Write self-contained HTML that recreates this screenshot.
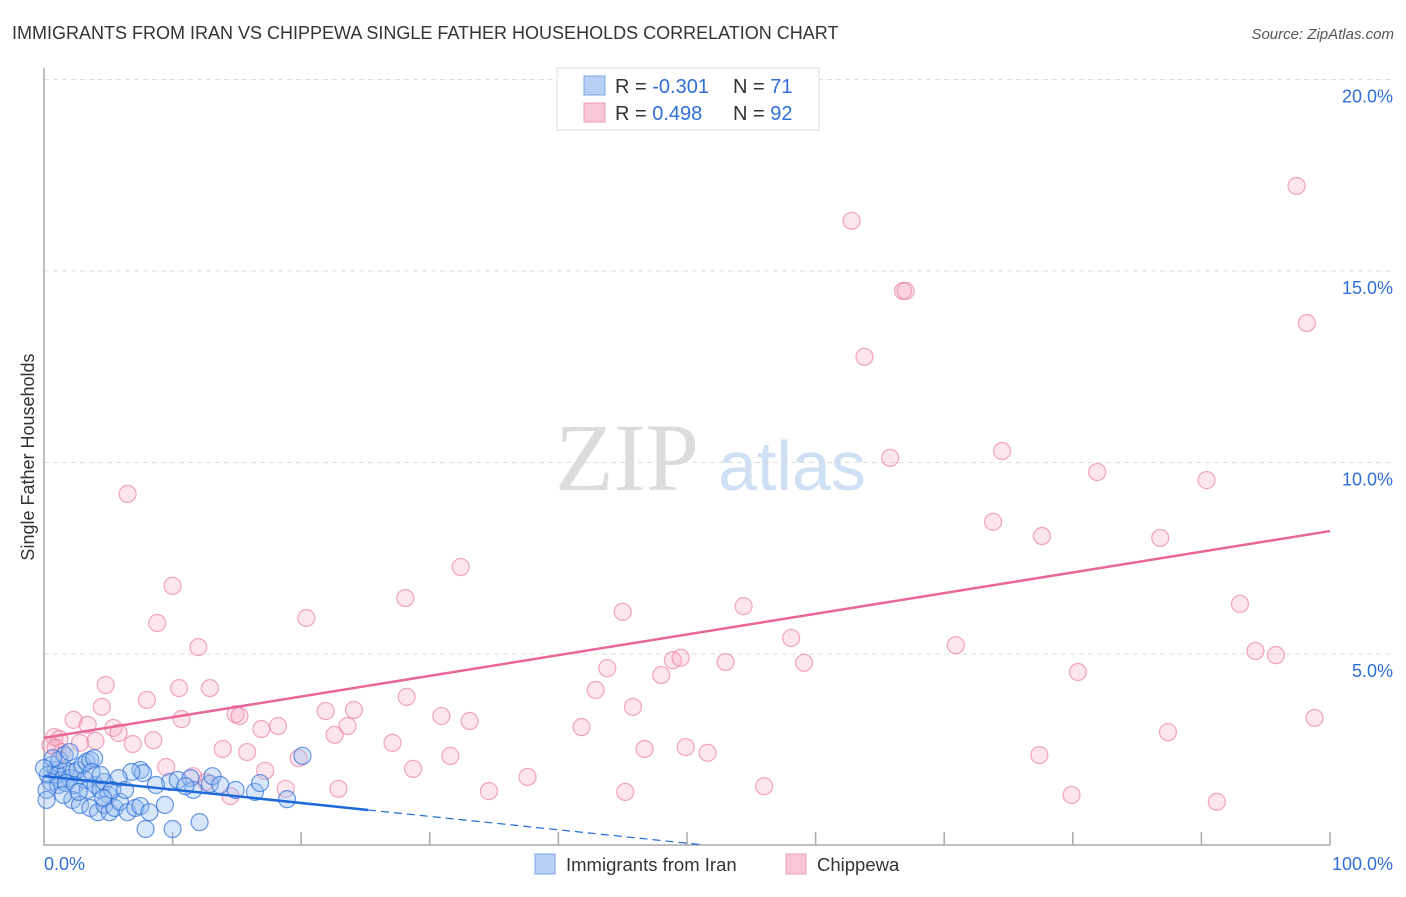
<!DOCTYPE html>
<html><head><meta charset="utf-8"><style>
body{margin:0;background:#fff;font-family:"Liberation Sans",sans-serif;}
svg text{font-family:"Liberation Sans",sans-serif;}
</style></head><body>
<svg id="chart" width="1406" height="892" xmlns="http://www.w3.org/2000/svg">
<text x="12" y="39" font-size="18" fill="#333">IMMIGRANTS FROM IRAN VS CHIPPEWA SINGLE FATHER HOUSEHOLDS CORRELATION CHART</text>
<text x="1394" y="39" font-size="15" fill="#555" font-style="italic" text-anchor="end">Source: ZipAtlas.com</text>
<text x="34" y="457" font-size="18" fill="#333" text-anchor="middle" transform="rotate(-90 34 457)">Single Father Households</text>
<text x="555" y="490" font-size="96" fill="#dcdcdc" style="font-family:'Liberation Serif',serif">ZIP</text>
<text x="718" y="490" font-size="70" fill="#cfdff4">atlas</text>
<g id="grid"></g><g id="marks"></g>
<g>
<rect x="557" y="68" width="262" height="62" fill="#fff" stroke="#ddd"/>
<rect x="584" y="76" width="21" height="19" fill="#b7d0f4" stroke="#7aa4e6"/>
<rect x="584" y="103" width="21" height="19" fill="#f9c6d5" stroke="#ee9bb5"/>
<text x="615" y="93" font-size="20" fill="#333">R = <tspan fill="#2f6fd6">-0.301</tspan></text>
<text x="733" y="93" font-size="20" fill="#333">N = <tspan fill="#2f6fd6"> 71</tspan></text>
<text x="615" y="120" font-size="20" fill="#333">R = <tspan fill="#2f6fd6"> 0.498</tspan></text>
<text x="733" y="120" font-size="20" fill="#333">N = <tspan fill="#2f6fd6">92</tspan></text>
</g>
<g>
<rect x="535" y="854" width="20" height="20" fill="#b7d0f4" stroke="#7aa4e6"/>
<text x="566" y="871" font-size="18.5" fill="#333">Immigrants from Iran</text>
<rect x="786" y="854" width="20" height="20" fill="#f9c6d5" stroke="#ee9bb5"/>
<text x="817" y="871" font-size="18.5" fill="#333">Chippewa</text>
</g>
</svg>
<script>
const yTicks=[5,10,15,20];
const yTickLabels=["5.0%","10.0%","15.0%","20.0%"];
const xTicks=[0,10,20,30,40,50,60,70,80,90,100];
const iranX=[0.6,0.9,0.3,1.0,1.4,1.7,2.0,2.3,2.6,3.0,3.3,3.6,3.9,1.2,1.6,2.0,0.7,0.5,1.1,1.7,2.4,3.2,3.4,4.0,4.4,4.7,5.0,2.2,2.8,3.6,4.2,4.7,5.1,5.5,5.9,6.5,7.1,7.5,8.2,9.4,7.9,10.0,12.1,7.5,7.7,6.8,9.8,10.4,11.4,11.6,12.9,13.1,13.7,14.9,16.4,16.8,18.9,20.1,3.7,4.4,5.8,5.3,6.3,0.2,0.0,0.2,1.5,2.7,4.6,8.7,11.0];
const iranY=[2.10,1.97,1.84,1.84,1.71,1.97,1.76,1.92,1.97,2.10,2.18,2.23,2.28,2.23,2.36,2.44,2.28,1.66,1.58,1.63,1.58,1.71,1.45,1.58,1.45,1.66,1.32,1.19,1.06,0.98,0.87,1.06,0.87,0.98,1.14,0.87,0.98,1.03,0.87,1.06,0.43,0.43,0.61,1.97,1.89,1.92,1.66,1.71,1.76,1.45,1.61,1.81,1.58,1.45,1.40,1.63,1.21,2.34,1.92,1.84,1.76,1.45,1.45,1.45,2.02,1.19,1.32,1.40,1.24,1.58,1.55];
const chipX=[6.5,62.8,97.4,66.8,67.0,63.8,98.2,65.8,74.5,81.9,90.4,73.8,77.6,86.8,32.4,10.0,28.1,20.4,45.0,54.4,93.0,8.8,12.0,70.9,94.2,95.8,58.1,43.8,48.9,49.5,53.0,59.1,48.0,80.4,4.8,8.0,10.5,12.9,42.9,28.2,4.5,45.8,98.8,2.3,10.7,14.9,15.2,21.9,24.1,30.9,33.1,3.4,5.4,5.8,8.5,16.9,18.2,23.6,41.8,87.4,0.8,1.2,4.0,2.8,6.9,22.6,27.1,15.8,13.9,19.8,31.6,46.7,49.9,51.6,77.4,9.5,17.2,28.7,37.6,18.8,22.9,34.6,45.2,56.0,79.9,91.2,0.5,12.6,14.5,11.6,1.4,0.9];
const chipY=[9.18,16.31,17.22,14.48,14.48,12.76,13.64,10.12,10.30,9.75,9.54,8.45,8.08,8.03,7.27,6.78,6.46,5.94,6.10,6.25,6.31,5.81,5.18,5.23,5.08,4.97,5.42,4.63,4.84,4.90,4.79,4.77,4.45,4.53,4.19,3.80,4.11,4.11,4.06,3.88,3.62,3.62,3.33,3.28,3.30,3.43,3.38,3.51,3.54,3.38,3.25,3.15,3.07,2.94,2.75,3.04,3.12,3.12,3.09,2.96,2.83,2.78,2.73,2.68,2.65,2.89,2.68,2.44,2.52,2.28,2.34,2.52,2.57,2.42,2.36,2.05,1.95,2.00,1.79,1.48,1.48,1.42,1.40,1.55,1.32,1.14,2.62,1.66,1.29,1.81,2.44,2.55];
const iranTrend=[1.81,-0.035];
const chipTrend=[2.81,0.054];
const X=v=>44+v*12.86, Y=v=>845.5-v*38.3;
const NS="http://www.w3.org/2000/svg";
function mk(tag,attrs,parent){const e=document.createElementNS(NS,tag);for(const k in attrs)e.setAttribute(k,attrs[k]);parent.appendChild(e);return e;}
const grid=document.getElementById('grid'),marks=document.getElementById('marks');
yTicks.forEach((t,i)=>{
 const l=mk('line',{x1:44,x2:1394,y1:Y(t),y2:Y(t),stroke:'#ddd','stroke-dasharray':'5,4'},grid);
 
 
 const tx=mk('text',{x:1393,y:Y(t)+23,'font-size':18,fill:'#2f6fd6','text-anchor':'end'},grid);
 tx.textContent=yTickLabels[i];
 
 
});
const ax=mk('path',{d:'M44,68 V845 H1330',fill:'none',stroke:'#aaa','stroke-width':1.5},grid);


xTicks.forEach(t=>{
 if(t===0)return;
 const l=mk('line',{x1:X(t),x2:X(t),y1:832,y2:845,stroke:'#aaa','stroke-width':1.5},grid);
 
 
});
const x0=mk('text',{x:44,y:870,'font-size':18,fill:'#2f6fd6'},grid);x0.textContent='0.0%';


const x1=mk('text',{x:1393,y:870,'font-size':18,fill:'#2f6fd6','text-anchor':'end'},grid);x1.textContent='100.0%';


chipX.forEach((v,i)=>{
 const c=mk('circle',{cx:X(v),cy:Y(chipY[i]),r:8.5,fill:'rgba(247,170,195,0.3)',stroke:'rgba(232,120,158,0.65)','stroke-width':1.2},marks);
 
 
});
iranX.forEach((v,i)=>{
 const c=mk('circle',{cx:X(v),cy:Y(iranY[i]),r:8.5,fill:'rgba(150,190,240,0.38)',stroke:'rgba(45,110,215,0.7)','stroke-width':1.2},marks);
 
 
});
const pl=mk('line',{x1:X(0),y1:Y(chipTrend[0]),x2:X(100),y2:Y(chipTrend[0]+chipTrend[1]*100),stroke:'#e8679a','stroke-width':2.5},marks);


const bl=mk('line',{x1:X(0),y1:Y(iranTrend[0]),x2:X(25.2),y2:Y(iranTrend[0]+iranTrend[1]*25.2),stroke:'#1f6ad8','stroke-width':2.5},marks);


const bd=mk('line',{x1:X(25.2),y1:Y(iranTrend[0]+iranTrend[1]*25.2),x2:X(51),y2:Y(iranTrend[0]+iranTrend[1]*51),stroke:'#1f6ad8','stroke-width':1.2,'stroke-dasharray':'8,5'},marks);


</script>
</body></html>
